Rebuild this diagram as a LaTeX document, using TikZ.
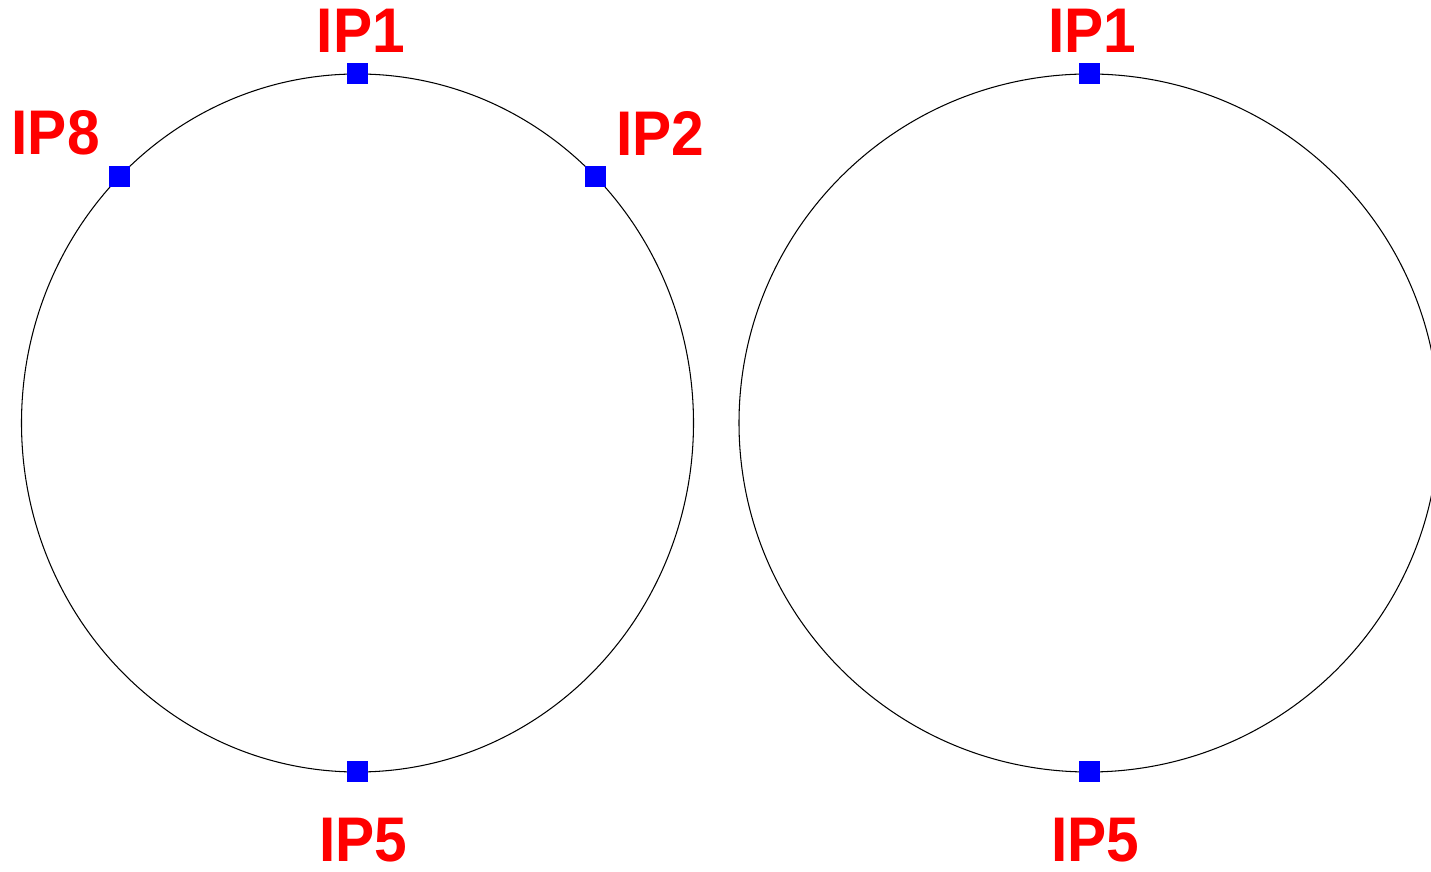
\documentclass[tikz,border=0pt]{standalone}
\usepackage{fontspec}
\setmainfont{Liberation Sans}
\usetikzlibrary{positioning,calc}
\tikzset{
  ring/.style={line width=0.6pt},
  ip/.style={fill=blue, draw=none, minimum size=0.42cm, inner sep=0pt},
  iplabel/.style={text=red, font=\fontsize{35.9}{40}\selectfont\bfseries, inner sep=0pt,
    xscale=0.93, transform shape},
}
\begin{document}
\begin{tikzpicture}[x=0.02cm,y=0.02cm]
    \useasboundingbox (0,0) rectangle (1431,872);

    % Left ring
    \coordinate (cl) at (357.5,449);
    \draw[ring] (cl) ellipse (336 and 349);
    \node[ip] (l1) at ($(cl)+(90:336 and 349)$) {};
    \node[ip] (l2) at ($(cl)+(45:336 and 349)$) {};
    \node[ip] (l8) at ($(cl)+(135:336 and 349)$) {};
    \node[ip] (l5) at ($(cl)+(270:336 and 349)$) {};
    \node[iplabel, above=0.21cm of l1, xshift=2] (t1) {IP1};
    \node[iplabel, above right=0.19cm and 0.2cm of l2] (t2) {IP2};
    \node[iplabel, above left=0.19cm and 0.18cm of l8] (t8) {IP8};
    \node[iplabel, below=0.7cm of l5, xshift=3.5] (t5) {IP5};

    % Right ring
    \coordinate (cr) at (1089,449);
    \draw[ring] (cr) ellipse (350 and 349);
    \node[ip] (r1) at ($(cr)+(90:350 and 349)$) {};
    \node[ip] (r5) at ($(cr)+(270:350 and 349)$) {};
    \node[iplabel, above=0.21cm of r1, xshift=2] (s1) {IP1};
    \node[iplabel, below=0.7cm of r5, xshift=4] (s5) {IP5};
\end{tikzpicture}
\end{document}
